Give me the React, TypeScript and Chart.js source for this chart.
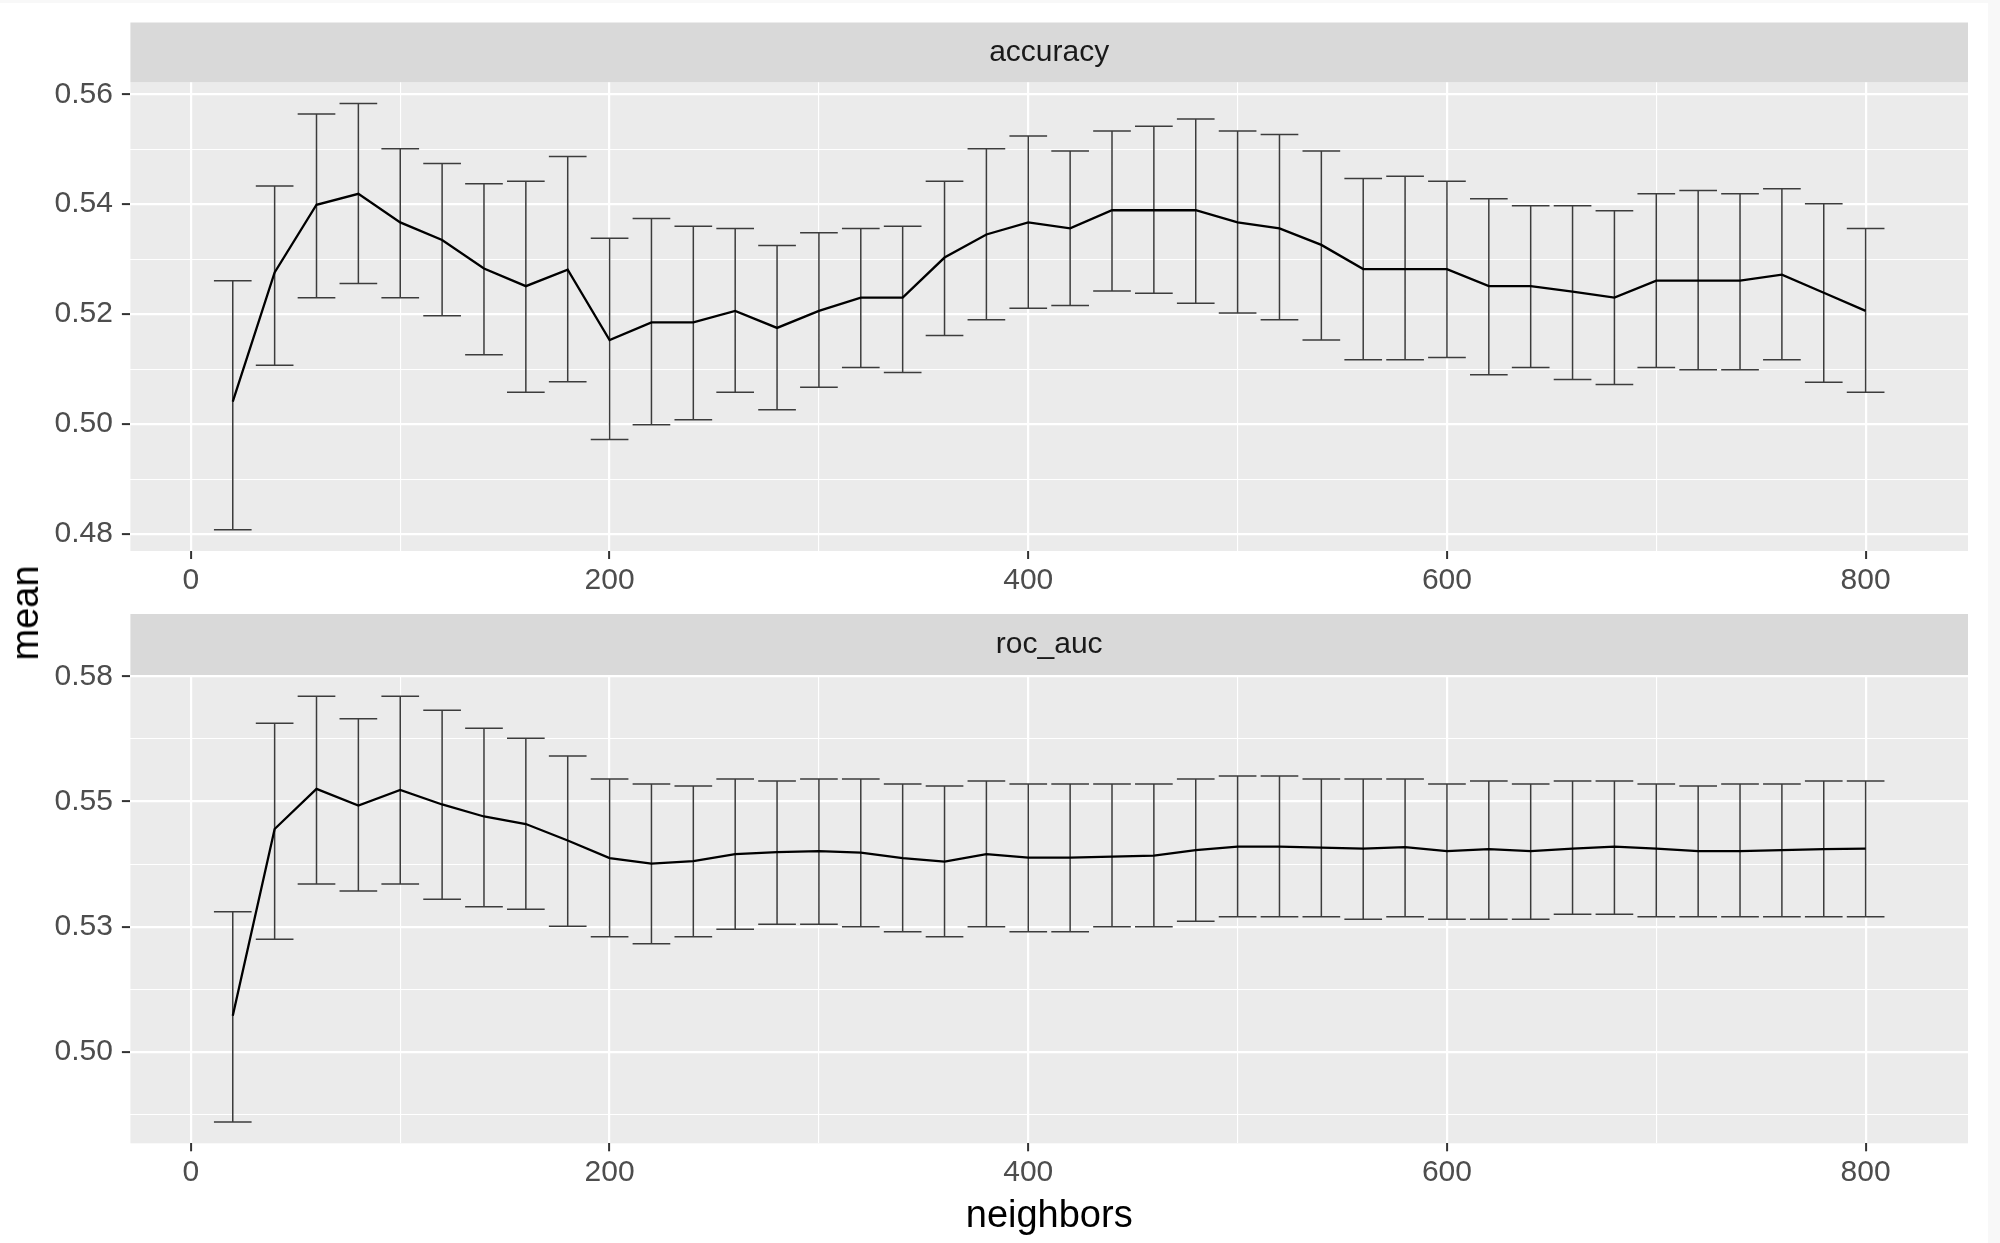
import React, { useEffect, useRef } from "react";
import { Chart, registerables } from "chart.js";

Chart.register(...registerables);

// ---------------- data ----------------
const neighbors = [
  20, 40, 60, 80, 100, 120, 140, 160, 180, 200,
  220, 240, 260, 280, 300, 320, 340, 360, 380, 400,
  420, 440, 460, 480, 500, 520, 540, 560, 580, 600,
  620, 640, 660, 680, 700, 720, 740, 760, 780, 800,
];

const accuracyMean = [
  0.5041, 0.5276, 0.5399, 0.5419, 0.5367, 0.5335, 0.5283, 0.5251, 0.5281, 0.5153,
  0.5185, 0.5185, 0.5206, 0.5175, 0.5206, 0.523, 0.523, 0.5303, 0.5345, 0.5367,
  0.5356, 0.5389, 0.5389, 0.5389, 0.5367, 0.5356, 0.5326, 0.5282, 0.5282, 0.5282,
  0.5251, 0.5251, 0.5241, 0.523, 0.5261, 0.5261, 0.5261, 0.5272, 0.5239, 0.5206,
];
const accuracyUpper = [
  0.5261, 0.5433, 0.5564, 0.5583, 0.5501, 0.5474, 0.5437, 0.5442, 0.5487, 0.5338,
  0.5374, 0.536, 0.5356, 0.5325, 0.5348, 0.5356, 0.536, 0.5442, 0.5501, 0.5524,
  0.5497, 0.5533, 0.5542, 0.5555, 0.5533, 0.5527, 0.5497, 0.5447, 0.5451, 0.5442,
  0.541, 0.5397, 0.5397, 0.5388, 0.5419, 0.5425, 0.5419, 0.5428, 0.5401, 0.5356,
];
const accuracyLower = [
  0.4808, 0.5107, 0.523, 0.5256, 0.523, 0.5197, 0.5126, 0.5058, 0.5077, 0.4972,
  0.4999, 0.5008, 0.5058, 0.5026, 0.5067, 0.5103, 0.5094, 0.5161, 0.519, 0.5211,
  0.5216, 0.5242, 0.5238, 0.522, 0.5202, 0.519, 0.5153, 0.5117, 0.5117, 0.5121,
  0.509, 0.5103, 0.5081, 0.5072, 0.5103, 0.5099, 0.5099, 0.5117, 0.5076, 0.5058,
];

const rocMean = [
  0.5072, 0.5445, 0.5525, 0.5492, 0.5523, 0.5494, 0.547, 0.5455, 0.5422, 0.5387,
  0.5376, 0.5381, 0.5395, 0.5399, 0.5401, 0.5398, 0.5387, 0.538, 0.5395, 0.5388,
  0.5388, 0.539, 0.5392, 0.5403, 0.541, 0.541, 0.5408, 0.5406, 0.5409, 0.5401,
  0.5405, 0.5401, 0.5406, 0.541, 0.5406, 0.5401, 0.5401, 0.5403, 0.5405, 0.5406,
];
const rocUpper = [
  0.528, 0.5656, 0.571, 0.5665, 0.571, 0.5682, 0.5646, 0.5626, 0.5591, 0.5545,
  0.5535, 0.5531, 0.5545, 0.5541, 0.5545, 0.5545, 0.5535, 0.5531, 0.5541, 0.5535,
  0.5535, 0.5535, 0.5535, 0.5545, 0.5551, 0.5551, 0.5545, 0.5545, 0.5545, 0.5535,
  0.5541, 0.5535, 0.5541, 0.5541, 0.5535, 0.5531, 0.5535, 0.5535, 0.5541, 0.5541,
];
const rocLower = [
  0.486, 0.5225, 0.5335, 0.5321, 0.5335, 0.5305, 0.529, 0.5285, 0.5251, 0.523,
  0.5216, 0.523, 0.5245, 0.5255, 0.5255, 0.525, 0.524, 0.523, 0.525, 0.524,
  0.524, 0.525, 0.525, 0.5261, 0.527, 0.527, 0.527, 0.5265, 0.527, 0.5265,
  0.5265, 0.5265, 0.5275, 0.5275, 0.527, 0.527, 0.527, 0.527, 0.527, 0.527,
];

const facetLabels = ["accuracy", "roc_auc"];

const xMajorTicks = [0, 200, 400, 600, 800];
const xMinorTicks = [100, 300, 500, 700];
const xTickLabels = ["0", "200", "400", "600", "800"];

const accMajorTicks = [0.48, 0.5, 0.52, 0.54, 0.56];
const accMinorTicks = [0.49, 0.51, 0.53, 0.55];
const accTickLabels = ["0.48", "0.50", "0.52", "0.54", "0.56"];

const rocMajorTicks = [0.5, 0.525, 0.55, 0.575];
const rocMinorTicks = [0.4875, 0.5125, 0.5375, 0.5625];
const rocTickLabels = ["0.50", "0.53", "0.55", "0.58"];

const xTitle = "neighbors";
const yTitle = "mean";

// ---------------- styling ----------------
const FONT = "'Liberation Sans', Arial, Helvetica, sans-serif";
const PANEL_BG = "#EBEBEB";
const STRIP_BG = "#D9D9D9";
const TICK_TEXT = "#4D4D4D";
const STRIP_TEXT = "#1A1A1A";

// errorbar half width in data units (ggplot: 0.9 * resolution / 2)
const CAP_HALF = 9;

function expandRange(lo: number[], hi: number[]) {
  const mn = Math.min(...lo);
  const mx = Math.max(...hi);
  const pad = (mx - mn) * 0.05;
  return [mn - pad, mx + pad];
}

const isIn = (arr: number[], v: number) => arr.some((a) => Math.abs(a - v) < 1e-9);
const labelOf = (arr: number[], labels: string[], v: number) => {
  const i = arr.findIndex((a) => Math.abs(a - v) < 1e-9);
  return i >= 0 ? labels[i] : "";
};

interface PanelCfg {
  mean: number[];
  lo: number[];
  hi: number[];
  yMajor: number[];
  yMinor: number[];
  yLabels: string[];
  facet: string;
  padTop: number;
  stripTop: number;
  xAxisHeight: number;
  showXTitle: boolean;
}

function makePanel(canvas: HTMLCanvasElement, cfg: PanelCfg) {
  const xLo = neighbors.map((v) => v - CAP_HALF);
  const xHi = neighbors.map((v) => v + CAP_HALF);
  const [xMin, xMax] = expandRange(xLo, xHi);
  const [yMin, yMax] = expandRange(cfg.lo, cfg.hi);

  const panelPlugin = {
    id: "panelStuff",
    beforeDraw(chart: any) {
      const { ctx, chartArea } = chart;
      ctx.save();
      ctx.fillStyle = PANEL_BG;
      ctx.fillRect(chartArea.left, chartArea.top, chartArea.right - chartArea.left, chartArea.bottom - chartArea.top);
      const sh = chartArea.top - cfg.stripTop;
      ctx.fillStyle = STRIP_BG;
      ctx.fillRect(chartArea.left, cfg.stripTop, chartArea.right - chartArea.left, sh);
      ctx.fillStyle = STRIP_TEXT;
      ctx.font = `30px ${FONT}`;
      ctx.textAlign = "center";
      ctx.textBaseline = "middle";
      ctx.fillText(cfg.facet, (chartArea.left + chartArea.right) / 2, cfg.stripTop + sh / 2);
      ctx.restore();
    },
    beforeDatasetsDraw(chart: any) {
      const { ctx, chartArea } = chart;
      const x = chart.scales.x;
      const y = chart.scales.y;
      ctx.save();
      ctx.beginPath();
      ctx.rect(chartArea.left, chartArea.top, chartArea.right - chartArea.left, chartArea.bottom - chartArea.top);
      ctx.clip();
      ctx.strokeStyle = "#3C3C3C";
      ctx.lineWidth = 1.5;
      ctx.beginPath();
      neighbors.forEach((xv, i) => {
        const px = x.getPixelForValue(xv);
        const pl = x.getPixelForValue(xv - CAP_HALF);
        const pr = x.getPixelForValue(xv + CAP_HALF);
        const yl = y.getPixelForValue(cfg.lo[i]);
        const yh = y.getPixelForValue(cfg.hi[i]);
        ctx.moveTo(px, yl);
        ctx.lineTo(px, yh);
        ctx.moveTo(pl, yl);
        ctx.lineTo(pr, yl);
        ctx.moveTo(pl, yh);
        ctx.lineTo(pr, yh);
      });
      ctx.stroke();
      ctx.restore();
    },
  };

  const xAll = [...xMajorTicks, ...xMinorTicks].sort((a, b) => a - b);
  const yAll = [...cfg.yMajor, ...cfg.yMinor].sort((a, b) => a - b);

  return new Chart(canvas, {
    type: "line",
    data: {
      datasets: [
        {
          data: neighbors.map((x, i) => ({ x, y: cfg.mean[i] })),
          borderColor: "#000000",
          borderWidth: 2.3,
          pointRadius: 0,
          tension: 0,
          fill: false,
        },
      ],
    },
    options: {
      animation: false,
      responsive: false,
      maintainAspectRatio: false,
      devicePixelRatio: 1,
      layout: { padding: { top: cfg.padTop, left: 0, right: 32, bottom: 0 } },
      plugins: { legend: { display: false }, tooltip: { enabled: false }, title: { display: false } },
      scales: {
        x: {
          type: "linear",
          bounds: "data",
          min: xMin,
          max: xMax,
          afterBuildTicks: (s: any) => {
            s.ticks = xAll.map((v) => ({ value: v }));
          },
          afterFit: (s: any) => {
            s.height = cfg.xAxisHeight;
          },
          ticks: {
            autoSkip: false,
            maxRotation: 0,
            padding: 3.5,
            color: TICK_TEXT,
            font: { family: FONT, size: 30 },
            callback: (v: any) => labelOf(xMajorTicks, xTickLabels, Number(v)),
          },
          grid: {
            color: "#FFFFFF",
            lineWidth: (c: any) => (c.tick && isIn(xMajorTicks, c.tick.value) ? 2.2 : 1.1),
            tickLength: 8,
            tickWidth: 2,
            tickColor: (c: any) => (c.tick && isIn(xMajorTicks, c.tick.value) ? "#333333" : "rgba(0,0,0,0)"),
          },
          border: { display: false },
          title: {
            display: cfg.showXTitle,
            text: xTitle,
            color: "#000000",
            font: { family: FONT, size: 38 },
            padding: { top: 0, bottom: 3.5 },
          },
        },
        y: {
          type: "linear",
          bounds: "data",
          min: yMin,
          max: yMax,
          afterBuildTicks: (s: any) => {
            s.ticks = yAll.map((v) => ({ value: v }));
          },
          afterFit: (s: any) => {
            s.width = 130.4;
          },
          ticks: {
            autoSkip: false,
            padding: 9,
            color: TICK_TEXT,
            font: { family: FONT, size: 30 },
            callback: (v: any) => labelOf(cfg.yMajor, cfg.yLabels, Number(v)),
          },
          grid: {
            color: "#FFFFFF",
            lineWidth: (c: any) => (c.tick && isIn(cfg.yMajor, c.tick.value) ? 2.2 : 1.1),
            tickLength: 8.5,
            tickWidth: 2,
            tickColor: (c: any) => (c.tick && isIn(cfg.yMajor, c.tick.value) ? "#333333" : "rgba(0,0,0,0)"),
          },
          border: { display: false },
        },
      },
    } as any,
    plugins: [panelPlugin],
  });
}

export default function App() {
  const refA = useRef<HTMLCanvasElement>(null);
  const refB = useRef<HTMLCanvasElement>(null);

  useEffect(() => {
    document.body.style.margin = "0";
    const a = makePanel(refA.current!, {
      mean: accuracyMean,
      lo: accuracyLower,
      hi: accuracyUpper,
      yMajor: accMajorTicks,
      yMinor: accMinorTicks,
      yLabels: accTickLabels,
      facet: facetLabels[0],
      padTop: 82.3,
      stripTop: 22.5,
      xAxisHeight: 49,
      showXTitle: false,
    });
    const b = makePanel(refB.current!, {
      mean: rocMean,
      lo: rocLower,
      hi: rocUpper,
      yMajor: rocMajorTicks,
      yMinor: rocMinorTicks,
      yLabels: rocTickLabels,
      facet: facetLabels[1],
      padTop: 75,
      stripTop: 14,
      xAxisHeight: 643 - 543.3,
      showXTitle: true,
    });
    return () => {
      a.destroy();
      b.destroy();
    };
  }, []);

  return (
    <div style={{ position: "relative", width: 2000, height: 1243, background: "#F8F8F8", overflow: "hidden" }}>
      <div style={{ position: "absolute", left: 0, top: 3, width: 1988, height: 1240, background: "#FFFFFF" }} />
      <canvas
        ref={refA}
        width={2000}
        height={600}
        style={{ position: "absolute", left: 0, top: 0, width: 2000, height: 600 }}
      />
      <canvas
        ref={refB}
        width={2000}
        height={643}
        style={{ position: "absolute", left: 0, top: 600, width: 2000, height: 643 }}
      />
      <div
        style={{
          position: "absolute",
          left: 25,
          top: 613,
          transform: "translate(-50%, -50%) rotate(-90deg)",
          fontFamily: FONT,
          fontSize: 38,
          color: "#000000",
          whiteSpace: "nowrap",
          lineHeight: 1,
        }}
      >
        {yTitle}
      </div>
    </div>
  );
}
